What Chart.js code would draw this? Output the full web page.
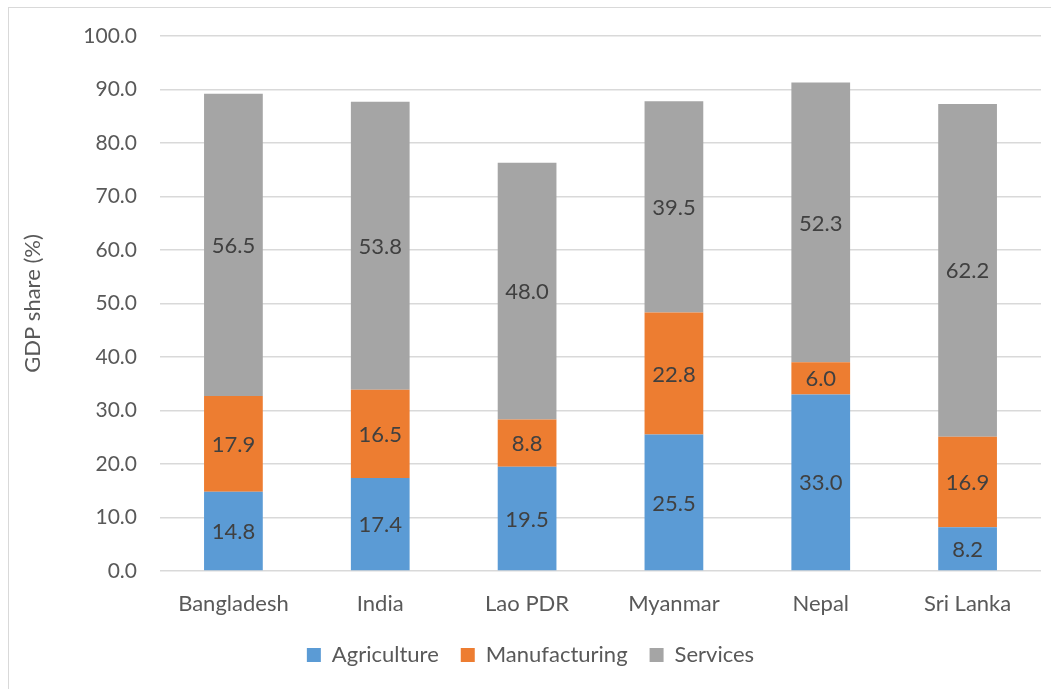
<!DOCTYPE html>
<html>
<head>
<meta charset="utf-8">
<script src="https://cdn.jsdelivr.net/npm/chart.js@4.4.1/dist/chart.umd.min.js"></script>
<style>
    html, body { margin: 0; padding: 0; background: #fff; overflow: hidden; }
    #wrap { position: relative; width: 1058px; height: 689px; }
    #frame {
        position: absolute; left: 8px; top: 7px; width: 1042px; height: 700px;
        border-left: 1px solid #d9d9d9; border-top: 1px solid #d9d9d9;
    }
    canvas { position: absolute; left: 0; top: 0; }
</style>
</head>
<body>
<div id="wrap">
    <div id="frame"></div>
    <canvas id="gdp-chart" width="1058" height="689"></canvas>
</div>
<script>
    // Chart data
    const countries = ['Bangladesh', 'India', 'Lao PDR', 'Myanmar', 'Nepal', 'Sri Lanka'];
    const agriculture = [14.8, 17.4, 19.5, 25.5, 33.0, 8.2];
    const manufacturing = [17.9, 16.5, 8.8, 22.8, 6.0, 16.9];
    const services = [56.5, 53.8, 48.0, 39.5, 52.3, 62.2];

    const FONT = 'Lato, "Open Sans", sans-serif';

    // Draw value labels in the middle of each bar segment
    const segmentLabels = {
        id: 'segmentLabels',
        afterDatasetsDraw: function(chart) {
            const ctx = chart.ctx;
            ctx.save();
            ctx.font = '22px ' + FONT;
            ctx.fillStyle = '#404040';
            ctx.textAlign = 'center';
            ctx.textBaseline = 'middle';
            chart.data.datasets.forEach(function(ds, i) {
                const meta = chart.getDatasetMeta(i);
                meta.data.forEach(function(bar, j) {
                    const p = bar.getProps(['x', 'y', 'base'], true);
                    ctx.fillText(ds.data[j].toFixed(1), p.x, (p.y + p.base) / 2 + 1);
                });
            });
            ctx.restore();
        }
    };

    const ctx = document.getElementById('gdp-chart');
    new Chart(ctx, {
        type: 'bar',
        data: {
            labels: countries,
            datasets: [
                { label: 'Agriculture', data: agriculture, backgroundColor: '#5b9bd5' },
                { label: 'Manufacturing', data: manufacturing, backgroundColor: '#ed7d31' },
                { label: 'Services', data: services, backgroundColor: '#a5a5a5' }
            ]
        },
        options: {
            responsive: false,
            animation: false,
            categoryPercentage: 1,
            barPercentage: 0.4,
            layout: { padding: { left: 20, right: 17, top: 36, bottom: 13 } },
            plugins: {
                tooltip: { enabled: false },
                legend: {
                    position: 'bottom',
                    labels: {
                        boxWidth: 14,
                        boxHeight: 14,
                        padding: 22,
                        color: '#595959',
                        font: { family: FONT, size: 22 }
                    }
                }
            },
            scales: {
                x: {
                    stacked: true,
                    grid: { display: false, drawTicks: false },
                    border: { display: false },
                    ticks: { color: '#595959', padding: 20, font: { family: FONT, size: 22 } },
                    afterFit: function(scale) { scale.height = 51; }
                },
                y: {
                    stacked: true,
                    min: 0,
                    max: 100,
                    grid: { color: '#d9d9d9', lineWidth: 1.5, drawTicks: false },
                    border: { display: false },
                    ticks: {
                        stepSize: 10,
                        color: '#595959',
                        padding: 23,
                        font: { family: FONT, size: 21 },
                        callback: function(v) { return v.toFixed(1); }
                    },
                    title: {
                        display: true,
                        text: 'GDP share (%)',
                        color: '#595959',
                        padding: 0,
                        font: { family: FONT, size: 22 }
                    },
                    afterFit: function(scale) { scale.width = 140; }
                }
            }
        },
        plugins: [segmentLabels]
    });
</script>
</body>
</html>
